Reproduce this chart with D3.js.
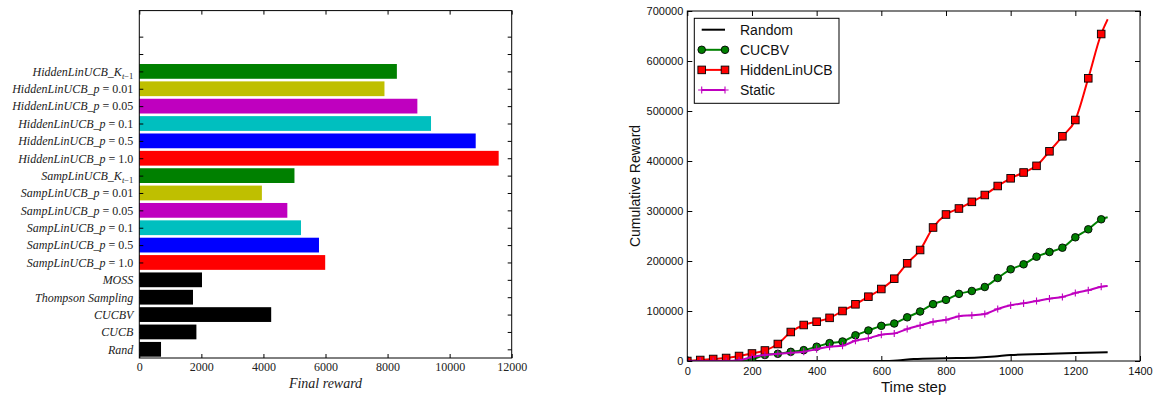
<!DOCTYPE html>
<html>
<head>
<meta charset="utf-8">
<script src="https://cdn.jsdelivr.net/npm/d3@7"></script>
<style>
  html, body { margin: 0; padding: 0; background: #fff; }
  svg { display: block; }
  .axis path.domain { display: none; }
  .axis line { stroke: #000; stroke-width: 1; }
</style>
</head>
<body>
<svg id="chart" width="1153" height="396"></svg>
<script>
// ---------- Left panel: final reward per algorithm ----------
const algorithms = [
  "Rand", "CUCB", "CUCBV", "Thompson Sampling", "MOSS",
  "SampLinUCB_p = 1.0", "SampLinUCB_p = 0.5", "SampLinUCB_p = 0.1",
  "SampLinUCB_p = 0.05", "SampLinUCB_p = 0.01", "SampLinUCB_K_{t-1}",
  "HiddenLinUCB_p = 1.0", "HiddenLinUCB_p = 0.5", "HiddenLinUCB_p = 0.1",
  "HiddenLinUCB_p = 0.05", "HiddenLinUCB_p = 0.01", "HiddenLinUCB_K_{t-1}"
];
const finalReward = [
  700, 1840, 4250, 1730, 2020,
  5990, 5790, 5210, 4770, 3950, 5000,
  11580, 10840, 9400, 8960, 7900, 8300
];
const barPalette = [
  "#000000", "#000000", "#000000", "#000000", "#000000",
  "#ff0000", "#0000ff", "#00bfbf", "#bf00bf", "#bfbf00", "#008000",
  "#ff0000", "#0000ff", "#00bfbf", "#bf00bf", "#bfbf00", "#008000"
];
const rewardTicks = [0, 2000, 4000, 6000, 8000, 10000, 12000];

// ---------- Right panel: cumulative reward over time ----------
const timeSteps = [0, 40, 80, 120, 160, 200, 240, 280, 320, 360, 400, 440, 480,
  520, 560, 600, 640, 680, 720, 760, 800, 840, 880, 920, 960, 1000, 1040,
  1080, 1120, 1160, 1200, 1240, 1280, 1300];
const hiddenLinUCB = [0, 2000, 4000, 6000, 10000, 15000, 21000, 34000, 58000,
  72000, 78600, 86300, 100000, 113400, 128600, 144000, 164600, 195400, 222000,
  267000, 293000, 305000, 318300, 332000, 350000, 365400, 377000, 390300,
  419400, 449400, 482000, 565400, 654000, 683400];
const cucbv = [0, 0, 0, 0, 0, 3000, 12000, 14400, 18300, 21700, 28600, 35700,
  39000, 51400, 61000, 70300, 75000, 87400, 99000, 113700, 122300, 134300,
  140000, 148000, 166000, 183400, 193400, 208600, 218000, 226600, 247400,
  263400, 283400, 287400];
const staticPolicy = [0, 0, 0, 0, 1500, 8000, 12000, 14500, 16500, 18600,
  23700, 28600, 30600, 40500, 45400, 52700, 55000, 64000, 71300, 78300, 82300,
  89400, 91400, 94000, 104000, 111400, 115400, 120000, 124600, 128000, 136000,
  141400, 148600, 150000];
const randomSteps = [0, 100, 200, 300, 400, 500, 600, 650, 700, 800, 900, 950,
  1000, 1100, 1200, 1300];
const randomReward = [0, 0, 0, 0, 0, 0, 0, 1000, 4000, 5500, 7000, 9000,
  12000, 14000, 16000, 17500];
const timeTicks = [0, 200, 400, 600, 800, 1000, 1200, 1400];
const cumulativeTicks = [0, 100000, 200000, 300000, 400000, 500000, 600000, 700000];

const svg = d3.select("#chart");

// ===================== Left panel =====================
const L = { left: 139.3, right: 511.7, top: 10.6, bottom: 358 };
const gL = svg.append("g");

const xL = d3.scaleLinear().domain([0, 12000]).range([L.left, L.right]);
const yL = d3.scaleLinear().domain([-0.5, 19.5]).range([L.bottom, L.top]);
const slot = Math.abs(yL(1) - yL(0));
const barH = slot * 0.85;

gL.selectAll("rect.bar")
  .data(algorithms.map((name, i) => ({ name, value: finalReward[i], color: barPalette[i], i })))
  .join("rect")
  .attr("class", "bar")
  .attr("x", xL(0))
  .attr("y", d => yL(d.i) - barH / 2)
  .attr("width", d => xL(d.value) - xL(0))
  .attr("height", barH)
  .attr("fill", d => d.color);

// Category axis (left) with inward ticks; two empty ticks above the last bar
const catTicks = d3.range(algorithms.length + 2);
const yAxisL = d3.axisLeft(yL).tickValues(catTicks).tickSize(-4).tickSizeOuter(0)
  .tickPadding(6).tickFormat(i => algorithms[i] || "");
const yAxisLG = gL.append("g").attr("class", "axis")
  .attr("transform", `translate(${L.left},0)`).call(yAxisL);

yAxisLG.selectAll(".tick text").each(function (i) {
  const label = algorithms[i];
  const t = d3.select(this).text(null)
    .attr("font-family", "'Liberation Serif', 'Times New Roman', serif")
    .attr("font-size", 12).attr("fill", "#222");
  if (!label) return;
  if (label.endsWith("_K_{t-1}")) {
    const base = label.replace("_K_{t-1}", "");
    t.append("tspan").attr("font-style", "italic").text(base + "_");
    t.append("tspan").attr("font-style", "italic").text("K");
    t.append("tspan").attr("font-style", "italic").attr("font-size", 8.5)
      .attr("dy", 3).text("t");
    t.append("tspan").attr("font-size", 8.5).text("\u22121");
  } else if (label.includes(" = ")) {
    const [head, num] = label.split(" = ");
    t.append("tspan").attr("font-style", "italic").text(head);
    t.append("tspan").text(" = " + num);
  } else {
    t.append("tspan").attr("font-style", "italic").text(label);
  }
});

gL.append("g").attr("class", "axis")
  .attr("transform", `translate(${L.right},0)`)
  .call(d3.axisRight(yL).tickValues(catTicks).tickSize(-4).tickSizeOuter(0).tickFormat(""));

const xAxisL = gL.append("g").attr("class", "axis")
  .attr("transform", `translate(0,${L.bottom})`)
  .call(d3.axisBottom(xL).tickValues(rewardTicks).tickSize(-4).tickSizeOuter(0)
    .tickPadding(4.5).tickFormat(d3.format("d")));
xAxisL.selectAll(".tick text")
  .attr("font-family", "'Liberation Serif', 'Times New Roman', serif")
  .attr("font-size", 12).attr("fill", "#222");

gL.append("g").attr("class", "axis")
  .attr("transform", `translate(0,${L.top})`)
  .call(d3.axisTop(xL).tickValues(rewardTicks).tickSize(-4).tickSizeOuter(0).tickFormat(""));

gL.append("rect")
  .attr("x", L.left).attr("y", L.top)
  .attr("width", L.right - L.left).attr("height", L.bottom - L.top)
  .attr("fill", "none").attr("stroke", "#000").attr("stroke-width", 1);

gL.append("text")
  .attr("x", (L.left + L.right) / 2).attr("y", 387.5)
  .attr("text-anchor", "middle")
  .attr("font-family", "'Liberation Serif', 'Times New Roman', serif")
  .attr("font-style", "italic").attr("font-size", 14).attr("fill", "#222")
  .text("Final reward");

// ===================== Right panel =====================
const R = { left: 687.3, right: 1140, top: 11, bottom: 361 };
const gR = svg.append("g");

const xR = d3.scaleLinear().domain([0, 1400]).range([R.left, R.right]);
const yR = d3.scaleLinear().domain([0, 700000]).range([R.bottom, R.top]);

gR.append("clipPath").attr("id", "plotClip")
  .append("rect")
  .attr("x", R.left).attr("y", R.top)
  .attr("width", R.right - R.left).attr("height", R.bottom - R.top);

const plot = gR.append("g").attr("clip-path", "url(#plotClip)");

const line = d3.line().x(d => xR(d[0])).y(d => yR(d[1])).curve(d3.curveMonotoneX);

const series = [
  { name: "Random", steps: randomSteps, values: randomReward, color: "#000000", marker: "none" },
  { name: "CUCBV", steps: timeSteps, values: cucbv, color: "#008000", marker: "circle" },
  { name: "HiddenLinUCB", steps: timeSteps, values: hiddenLinUCB, color: "#ff0000", marker: "square" },
  { name: "Static", steps: timeSteps, values: staticPolicy, color: "#bf00bf", marker: "plus" }
];

function drawMarker(sel, kind, color) {
  if (kind === "circle") {
    sel.append("circle").attr("r", 3.8)
      .attr("fill", color).attr("stroke", "#000").attr("stroke-width", 0.9);
  } else if (kind === "square") {
    sel.append("rect").attr("x", -3.8).attr("y", -3.8).attr("width", 7.6).attr("height", 7.6)
      .attr("fill", color).attr("stroke", "#000").attr("stroke-width", 0.9);
  } else if (kind === "plus") {
    sel.append("path").attr("d", "M-3.6,0H3.6M0,-3.6V3.6")
      .attr("stroke", color).attr("stroke-width", 1.1).attr("fill", "none");
  }
}

series.forEach(s => {
  const pts = s.steps.map((t, i) => [t, s.values[i]]);
  plot.append("path").datum(pts)
    .attr("d", line)
    .attr("fill", "none").attr("stroke", s.color).attr("stroke-width", 2);
  if (s.marker !== "none") {
    plot.selectAll(null)
      .data(pts.filter(p => p[0] % 40 === 0))
      .join("g")
      .attr("transform", p => `translate(${xR(p[0])},${yR(p[1])})`)
      .each(function () { drawMarker(d3.select(this), s.marker, s.color); });
  }
});

const sansFont = "'Liberation Sans', Arial, Helvetica, sans-serif";

const yAxisR = gR.append("g").attr("class", "axis")
  .attr("transform", `translate(${R.left},0)`)
  .call(d3.axisLeft(yR).tickValues(cumulativeTicks).tickSize(-5).tickSizeOuter(0)
    .tickPadding(4).tickFormat(d3.format("d")));
yAxisR.selectAll(".tick text").attr("font-family", sansFont).attr("font-size", 11).attr("fill", "#111");

gR.append("g").attr("class", "axis")
  .attr("transform", `translate(${R.right},0)`)
  .call(d3.axisRight(yR).tickValues(cumulativeTicks).tickSize(-5).tickSizeOuter(0).tickFormat(""));

const xAxisR = gR.append("g").attr("class", "axis")
  .attr("transform", `translate(0,${R.bottom})`)
  .call(d3.axisBottom(xR).tickValues(timeTicks).tickSize(-5).tickSizeOuter(0)
    .tickPadding(6).tickFormat(d3.format("d")));
xAxisR.selectAll(".tick text").attr("font-family", sansFont).attr("font-size", 11).attr("fill", "#111");

gR.append("g").attr("class", "axis")
  .attr("transform", `translate(0,${R.top})`)
  .call(d3.axisTop(xR).tickValues(timeTicks).tickSize(-5).tickSizeOuter(0).tickFormat(""));

gR.append("rect")
  .attr("x", R.left).attr("y", R.top)
  .attr("width", R.right - R.left).attr("height", R.bottom - R.top)
  .attr("fill", "none").attr("stroke", "#000").attr("stroke-width", 1);

gR.append("text")
  .attr("x", (R.left + R.right) / 2).attr("y", 391.5)
  .attr("text-anchor", "middle")
  .attr("font-family", sansFont).attr("font-size", 15).attr("fill", "#111")
  .text("Time step");

gR.append("text")
  .attr("transform", `translate(640,${(R.top + R.bottom) / 2}) rotate(-90)`)
  .attr("text-anchor", "middle")
  .attr("font-family", sansFont).attr("font-size", 14).attr("fill", "#111")
  .text("Cumulative Reward");

// Legend
const legend = gR.append("g").attr("transform", "translate(694.3,18.3)");
legend.append("rect").attr("width", 144.7).attr("height", 85)
  .attr("fill", "#fff").attr("stroke", "#000").attr("stroke-width", 1);
series.forEach((s, i) => {
  const row = legend.append("g").attr("transform", `translate(0,${11.4 + i * 20.1})`);
  row.append("line").attr("x1", 7.4).attr("x2", 30.7).attr("y1", 0).attr("y2", 0)
    .attr("stroke", s.color).attr("stroke-width", 2);
  if (s.marker !== "none") {
    [7.4, 30.7].forEach(mx => {
      const m = row.append("g").attr("transform", `translate(${mx},0)`);
      drawMarker(m, s.marker, s.color);
    });
  }
  row.append("text").attr("x", 45.7).attr("y", 5)
    .attr("font-family", sansFont).attr("font-size", 14).attr("fill", "#111")
    .text(s.name);
});
</script>
</body>
</html>
